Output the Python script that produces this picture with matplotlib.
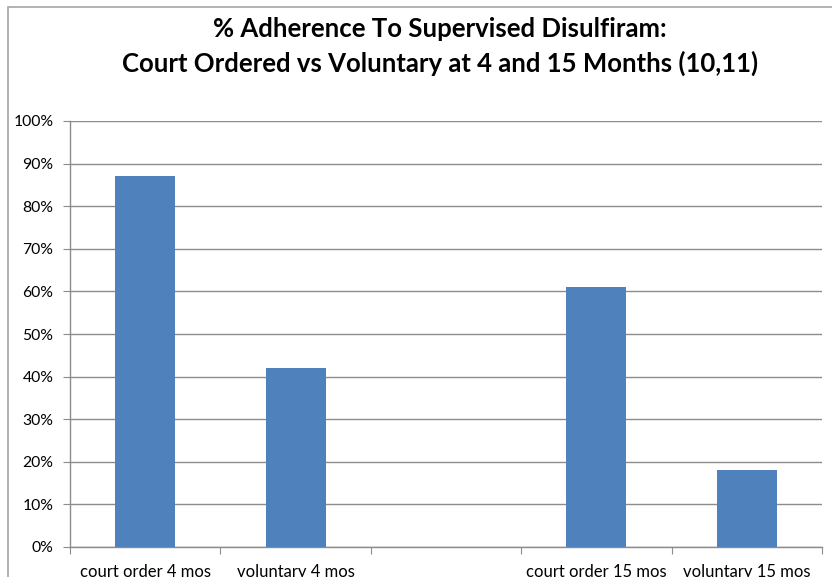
import matplotlib
matplotlib.use("Agg")
import matplotlib.pyplot as plt
from matplotlib.patches import Rectangle
from matplotlib.ticker import PercentFormatter, MultipleLocator

categories = ["court order 4 mos", "voluntary 4 mos", "", "court order 15 mos", "voluntary 15 mos"]
values = [87, 42, 0, 61, 18]
title_lines = ["% Adherence To Supervised Disulfiram:",
               "Court Ordered vs Voluntary at 4 and 15 Months (10,11)"]

plt.rcParams['font.family'] = ['Lato', 'DejaVu Sans']

W, H = 832, 577
fig = plt.figure(figsize=(W / 100, H / 100), dpi=100)
fig.patch.set_facecolor("white")

# outer chart frame
fig.add_artist(Rectangle((8 / W, -0.1), 1.2, 1 - 7 / H + 0.1, transform=fig.transFigure,
                         fill=False, edgecolor="#a6a6a6", linewidth=1.2))

ax = fig.add_axes([70 / W, 1 - 547 / H, (822 - 70) / W, (547 - 121) / H])
x = list(range(len(categories)))
ax.bar(x, values, width=0.4, color="#4F81BD", zorder=3)

ax.set_xlim(-0.5, len(categories) - 0.5)
ax.set_ylim(0, 100)
ax.yaxis.set_major_locator(MultipleLocator(10))
ax.yaxis.set_major_formatter(PercentFormatter(decimals=0))
ax.grid(axis="y", color="#8c8c8c", linewidth=1.0, zorder=0)

ax.set_xticks([i - 0.5 for i in range(len(categories) + 1)], minor=False)
ax.set_xticklabels([])
ax.set_xticks(x, minor=True)
ax.set_xticklabels(categories, minor=True, fontsize=12)
ax.tick_params(axis="x", which="minor", length=0, pad=12)
ax.tick_params(axis="x", which="major", length=5, color="#8c8c8c")
ax.tick_params(axis="y", length=5, color="#8c8c8c", labelsize=11.3, pad=7)

for s in ["top", "right"]:
    ax.spines[s].set_visible(False)
for s in ["left", "bottom"]:
    ax.spines[s].set_color("#8c8c8c")
    ax.spines[s].set_linewidth(1.0)

fig.text(440 / W, 1 - 37 / H, title_lines[0], ha="center", va="baseline",
         fontsize=18.5, fontweight="bold")
fig.text(440 / W, 1 - 72 / H, title_lines[1], ha="center", va="baseline",
         fontsize=18.5, fontweight="bold")

fig.savefig("out.png", dpi=100)
